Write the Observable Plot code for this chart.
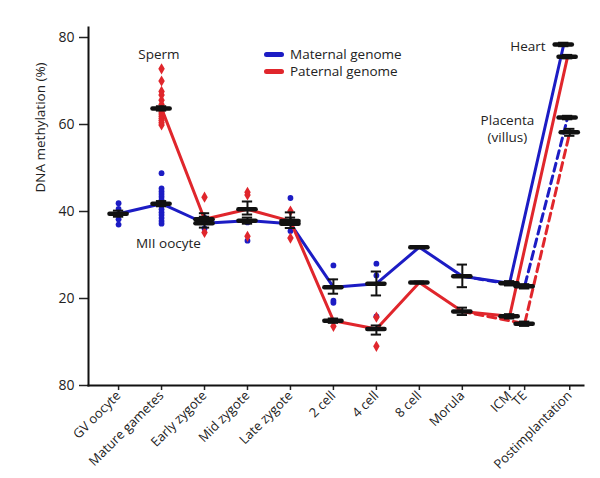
<!DOCTYPE html>
<html><head><meta charset="utf-8">
<script src="https://cdn.jsdelivr.net/npm/d3@7"></script>
<script src="https://cdn.jsdelivr.net/npm/@observablehq/plot@0.6"></script>
<style>
body{margin:0;background:#fff;font-family:"Open Sans",sans-serif;}
#wrap{position:relative;width:600px;height:478px;}
#legend{position:absolute;left:264px;top:46px;font-size:13.5px;color:#222;line-height:17px;}
#legend .row{display:flex;align-items:center;}
#legend .sw{width:20px;height:5px;border-radius:3px;margin-right:6px;}
</style>
</head><body><div id="wrap"><div id="chart"></div><div id="legend"></div></div>
<script>
// Stages (x-axis)
const stageLabels = ["GV oocyte","Mature gametes","Early zygote","Mid zygote","Late zygote","2 cell","4 cell","8 cell","Morula","ICM","TE","Postimplantation"];
const stagePos    = [0,1,2,3,4,5,6,7,8,9.1,9.45,10.5];
const yTicks = [0,20,40,60,80];
const yTickLabels = ["80","20","40","60","80"];

// Series colours / names
const seriesNames = ["Maternal genome","Paternal genome"];
const seriesColors = ["#1c1cc4","#e0262c"];

// Mean lines (solid: to ICM -> Heart ; dashed: Morula -> TE -> Placenta)
const maternalSolidX = [0,1,2,3,4,5,6,7,8,9.1,10.36];
const maternalSolidY = [39.5,41.8,37.3,37.9,37.2,22.6,23.4,31.8,25.1,23.5,78.4];
const maternalDashedX = [8,9.45,10.45];
const maternalDashedY = [25.1,22.8,61.6];
const paternalSolidX = [1,2,3,4,5,6,7,8,9.1,10.45];
const paternalSolidY = [63.7,38.2,40.5,37.8,14.9,13.0,23.7,17.0,15.9,75.6];
const paternalDashedX = [8,9.45,10.5];
const paternalDashedY = [17.0,14.2,58.2];

// Error bars (black): x, mean, low, high
const errX    = [0,1,2,3,4,5,6,7,8,9.1,9.45,10.36,10.45, 1,2,3,4,5,6,7,8,9.1,9.45,10.45,10.5];
const errMean = [39.5,41.8,37.3,37.9,37.2,22.6,23.4,31.8,25.1,23.5,22.8,78.4,61.6, 63.7,38.2,40.5,37.8,14.9,13.0,23.7,17.0,15.9,14.2,75.6,58.2];
const errLo   = [38.8,41.2,36.3,37.2,36.2,21.1,20.7,31.6,22.6,23.0,22.3,78.0,61.2, 63.2,37.6,39.3,37.0,14.4,11.7,23.5,16.2,15.4,13.7,75.2,57.4];
const errHi   = [40.2,42.4,39.6,38.6,39.8,24.4,26.2,32.0,27.8,24.0,23.3,78.8,62.0, 64.2,38.8,42.3,38.6,15.4,13.8,23.9,17.9,16.4,14.7,76.0,59.0];

// Individual samples
const maternalPtX = [0,0,0,0, 1,1,1,1,1,1,1,1,1,1,1,1,1,1, 2,2, 3,3, 4,4, 5,5,5, 6,6,6];
const maternalPtY = [41.9,40.6,38.2,37.0, 48.8,45.3,44.6,44.0,43.4,42.7,42.0,41.3,40.5,39.8,39.2,38.5,37.8,37.2, 38.6,36.1, 37.5,33.3, 43.1,35.5, 27.6,19.5,19.0, 28.0,25.3,15.9];
const paternalPtX = [1,1,1,1,1,1,1,1,1,1,1,1,1,1, 2,2, 3,3,3, 4,4, 5, 6,6];
const paternalPtY = [72.8,70.0,67.6,66.8,65.6,64.6,63.6,62.9,62.4,61.9,61.4,60.9,60.4,59.9, 43.3,35.2, 44.4,43.8,34.3, 40.1,33.9, 13.6, 15.7,9.0];

// Annotations
const annText = ["Sperm","MII oocyte","Heart","Placenta\n(villus)"];
const annX = [0.94,1.16,9.94,9.05];
const annY = [76.4,32.9,78.2,59.2];
const annAnchor = ["middle","middle","end","middle"];

const zip = (xs, ys) => xs.map((x,i)=>({x, y: ys[i]}));
const errData = errX.map((x,i)=>({x, m: errMean[i], lo: errLo[i], hi: errHi[i]}));
const ann = annText.map((t,i)=>({t, x: annX[i], y: annY[i], a: annAnchor[i]}));
const [cM, cP] = seriesColors;
const font = "'Open Sans', sans-serif";

const chart = Plot.plot({
  width: 600, height: 478,
  marginLeft: 88, marginRight: 17, marginTop: 27, marginBottom: 93,
  style: {fontFamily: font, fontSize: "13px", color: "#222", background: "#fff"},
  x: {domain: [-0.7, 10.82]},
  y: {domain: [0, 82.3]},
  marks: [
    Plot.axisY({ticks: yTicks, tickFormat: (d) => yTickLabels[yTicks.indexOf(d)], tickSize: 9, tickPadding: 5, fontSize: 14, label: null, strokeWidth: 1.5}),
    Plot.axisX({ticks: stagePos, tickFormat: (d) => stageLabels[stagePos.indexOf(d)], tickSize: 5, tickPadding: 3, tickRotate: -45, fontSize: 13, label: null, strokeWidth: 1.5}),
    Plot.frame({anchor: "left", stroke: "#111", strokeWidth: 2}),
    Plot.frame({anchor: "bottom", stroke: "#111", strokeWidth: 2}),
    Plot.text(["DNA methylation (%)"], {frameAnchor: "left", dx: -48, dy: -14, rotate: -90, fontSize: 13.5, fill: "#222"}),
    // individual samples
    Plot.dot(zip(maternalPtX, maternalPtY), {x: "x", y: "y", r: 2.9, fill: cM, stroke: "none"}),
    Plot.dot(zip(paternalPtX, paternalPtY), {x: "x", y: "y", r: 3.4, symbol: "diamond", fill: cP, stroke: "none"}),
    // lines
    Plot.line(zip(maternalDashedX, maternalDashedY), {x: "x", y: "y", stroke: cM, strokeWidth: 3, strokeDasharray: "8,5"}),
    Plot.line(zip(paternalDashedX, paternalDashedY), {x: "x", y: "y", stroke: cP, strokeWidth: 3, strokeDasharray: "8,5"}),
    Plot.line(zip(maternalSolidX, maternalSolidY), {x: "x", y: "y", stroke: cM, strokeWidth: 3}),
    Plot.line(zip(paternalSolidX, paternalSolidY), {x: "x", y: "y", stroke: cP, strokeWidth: 3}),
    // error bars
    Plot.ruleX(errData, {x: "x", y1: "lo", y2: "hi", stroke: "#111", strokeWidth: 2}),
    Plot.ruleY(errData, {y: "lo", x1: d => d.x - 0.12, x2: d => d.x + 0.12, stroke: "#111", strokeWidth: 2}),
    Plot.ruleY(errData, {y: "hi", x1: d => d.x - 0.12, x2: d => d.x + 0.12, stroke: "#111", strokeWidth: 2}),
    Plot.ruleY(errData, {y: "m", x1: d => d.x - 0.2, x2: d => d.x + 0.2, stroke: "#111", strokeWidth: 4.5, strokeLinecap: "round"}),
    // annotations
    Plot.text(ann.filter(d => d.a === "middle"), {x: "x", y: "y", text: "t", textAnchor: "middle", fontSize: 13.5, fill: "#222", lineHeight: 1.25}),
    Plot.text(ann.filter(d => d.a === "end"), {x: "x", y: "y", text: "t", textAnchor: "end", fontSize: 13.5, fill: "#222", lineHeight: 1.25})
  ]
});
document.getElementById("chart").appendChild(chart);

const lg = document.getElementById("legend");
seriesNames.forEach((n,i) => {
  const row = document.createElement("div"); row.className = "row";
  const sw = document.createElement("div"); sw.className = "sw"; sw.style.background = seriesColors[i];
  const t = document.createElement("span"); t.textContent = n;
  row.appendChild(sw); row.appendChild(t); lg.appendChild(row);
});
</script>
</body></html>
